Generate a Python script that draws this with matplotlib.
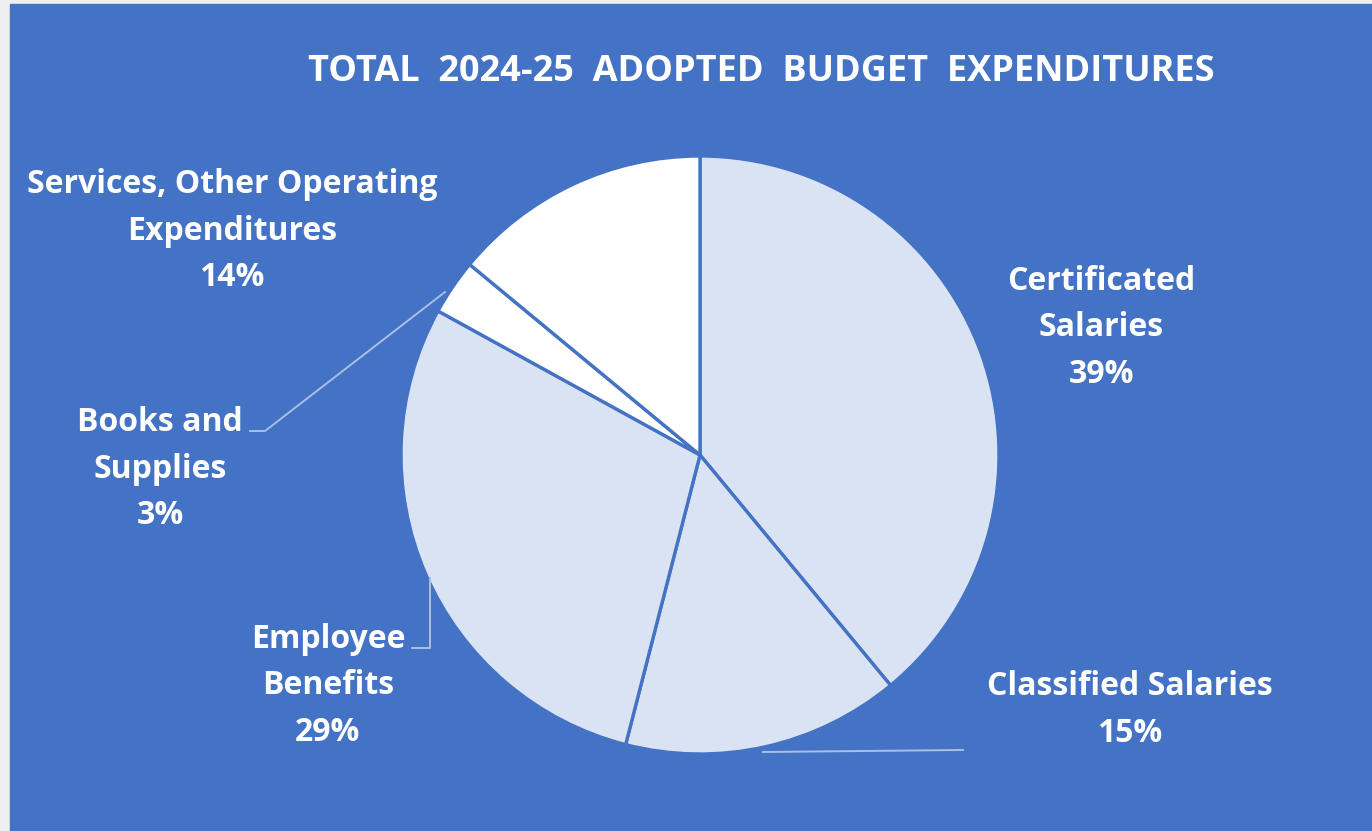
import matplotlib.pyplot as plt
from matplotlib.patches import Rectangle

# budget data
categories = ["Certificated\nSalaries", "Classified Salaries", "Employee\nBenefits",
              "Books and\nSupplies", "Services, Other Operating\nExpenditures"]
shares = [39, 15, 29, 3, 14]
colors = ["#DAE3F3", "#DAE3F3", "#DAE3F3", "#FFFFFF", "#FFFFFF"]

blue = "#4472C4"
W, H = 1372, 831

fig = plt.figure(figsize=(W / 100, H / 100), dpi=100, facecolor="#EFEFEF")
ax = fig.add_axes([0, 0, 1, 1])

# blue chart area
ax.add_patch(Rectangle((10, 0), W - 10, H - 4, color=blue, zorder=0))

# pie, centre (700, 455) in pixel coords from the top
cx, cy, r = 700, H - 455, 299
ax.pie(shares, colors=colors, startangle=90, counterclock=False,
       center=(cx, cy), radius=r, frame=True,
       wedgeprops=dict(edgecolor=blue, linewidth=2.4))
ax.set_xlim(0, W)
ax.set_ylim(0, H)
ax.axis("off")

font = "Open Sans"
ax.text(761, H - 72, "TOTAL  2024-25  ADOPTED  BUDGET  EXPENDITURES", color="white",
        fontsize=26, fontweight="bold", family=font, ha="center", va="center")

# label text and positions (pixels from top)
label_pos = [(1101, 328), (1130, 710), (328, 686), (160, 469), (232, 231)]
for name, pct, (px, py) in zip(categories, shares, label_pos):
    ax.text(px, H - py, f"{name}\n{pct}%", color="white", fontsize=23,
            fontweight="bold", family=font, ha="center", va="center",
            linespacing=1.53)

# leader lines
lc = dict(color="#A9C0E6", linewidth=1.4)
ax.plot([445, 265, 250], [H - 292, H - 431, H - 431], **lc)
ax.plot([430, 430, 412], [H - 578, H - 648, H - 648], **lc)
ax.plot([763, 963], [H - 752, H - 750], **lc)

fig.savefig("out.png", dpi=100, facecolor=fig.get_facecolor())
